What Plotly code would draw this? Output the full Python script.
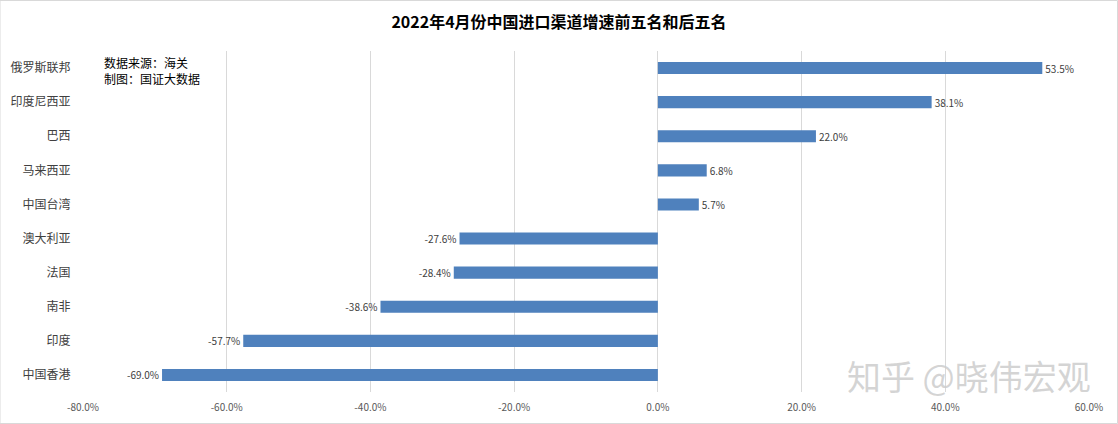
import plotly.graph_objects as go

categories = ["俄罗斯联邦", "印度尼西亚", "巴西", "马来西亚", "中国台湾",
              "澳大利亚", "法国", "南非", "印度", "中国香港"]
growth = [53.5, 38.1, 22.0, 6.8, 5.7, -27.6, -28.4, -38.6, -57.7, -69.0]
tick_vals = [-80, -60, -40, -20, 0, 20, 40, 60]
tick_text = ["-80.0%", "-60.0%", "-40.0%", "-20.0%", "0.0%", "20.0%", "40.0%", "60.0%"]

FONT = "Noto Sans CJK SC"

fig = go.Figure(go.Bar(
    x=growth, y=categories, orientation="h",
    marker=dict(color="#4f81bd", line=dict(width=0)),
    text=[f"{v:.1f}%" for v in growth],
    textposition="outside",
    constraintext="none",
    textfont=dict(size=10, color="#404040", family=FONT),
    cliponaxis=False,
))

fig.update_layout(
    width=1118, height=424,
    margin=dict(l=83, r=29, t=51, b=32, autoexpand=False),
    paper_bgcolor="white", plot_bgcolor="white",
    showlegend=False,
    bargap=0.645,
    font=dict(family=FONT, color="#595959"),
    title=dict(text="<b>2022年4月份中国进口渠道增速前五名和后五名</b>",
               x=0.5, xanchor="center", y=0.948, yanchor="middle",
               font=dict(size=16, color="#000000", family=FONT)),
    xaxis=dict(range=[-80, 60], tickvals=tick_vals, ticktext=tick_text,
               automargin=False,
               showgrid=True, gridcolor="#d9d9d9", gridwidth=1,
               zeroline=False, showline=False,
               tickfont=dict(size=10, color="#595959", family=FONT),
               ticks="outside", ticklen=6, tickcolor="rgba(0,0,0,0)"),
    yaxis=dict(autorange="reversed", showgrid=False, zeroline=False,
               automargin=False,
               tickfont=dict(size=12, color="#404040", family=FONT),
               ticks="outside", ticklen=9, tickcolor="rgba(0,0,0,0)"),
    shapes=[dict(type="rect", xref="paper", yref="paper",
                 x0=-83/1006, x1=1 + 28.5/1006, y0=-31.5/341, y1=1 + 50.5/341,
                 line=dict(color="#d9d9d9", width=1), fillcolor="rgba(0,0,0,0)")],
    annotations=[
        dict(text="数据来源：海关<br>制图：国证大数据", xref="paper", yref="paper",
             x=19/1006, y=1 - 1/341, xanchor="left", yanchor="top", align="left",
             showarrow=False, font=dict(size=12, color="#000000", family=FONT)),
        dict(text="知乎 @晓伟宏观", xref="paper", yref="paper",
             x=(969 - 83)/1006, y=(392 - 375)/341, xanchor="center", yanchor="middle",
             showarrow=False, font=dict(size=34, color="rgba(205,205,205,0.85)", family=FONT)),
    ],
)

fig.write_html("out.html")
